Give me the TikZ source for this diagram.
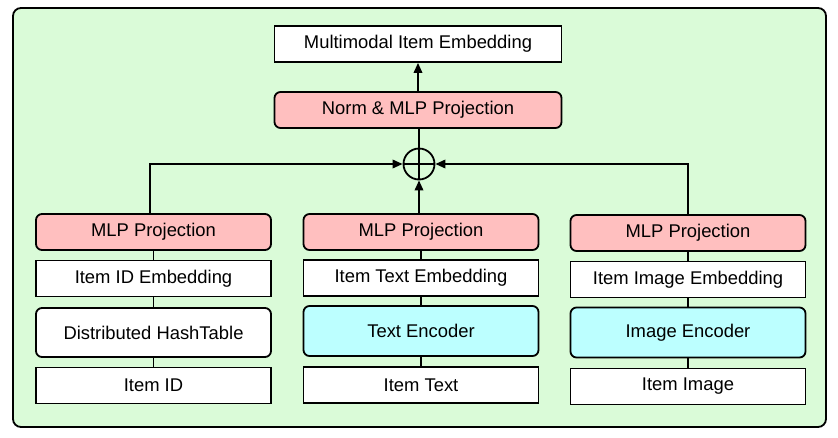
\documentclass[tikz,border=0pt]{standalone}
\usepackage{fontspec}
\setmainfont{Liberation Sans}
\usetikzlibrary{arrows.meta}
\definecolor{bggreen}{RGB}{218,251,216}
\definecolor{pinkfill}{RGB}{255,191,191}
\definecolor{cyanfill}{RGB}{188,255,255}
\begin{document}
\begin{tikzpicture}[x=1pt,y=-1pt, line width=1.8pt,
  box/.style={draw, fill=white, minimum width=235pt, minimum height=36pt, inner sep=0pt, font=\fontsize{18.4}{20}\selectfont},
  rbox/.style={box, rounded corners=6pt},
  pbox/.style={rbox, fill=pinkfill},
  cbox/.style={rbox, fill=cyanfill, minimum height=50pt},
  arr/.style={-{Triangle[length=10pt,width=8.5pt]}}]
\useasboundingbox (0,0) rectangle (838,437);
\draw[rounded corners=8pt, fill=bggreen] (13,8) rectangle (826,427);

% top
\node[box, minimum width=287pt] (top) at (418,44) {Multimodal Item Embedding};
\node[pbox, minimum width=287pt] (norm) at (418,110) {Norm \& MLP Projection};
\node[circle, draw, minimum size=31pt, inner sep=0pt] (plus) at (419,164) {};
\draw[line width=2.6pt] (plus.north) -- (plus.south) (plus.west) -- (plus.east);

% left column
\node[pbox] (lmlp) at (153.5,232) {MLP Projection};
\node[box]  (lemb) at (153.5,278.5) {Item ID Embedding};
\node[rbox, minimum height=49pt] (lenc) at (153.5,332.5) {Distributed HashTable};
\node[box]  (lin)  at (153.5,385.5) {Item ID};

% middle column
\node[pbox] (mmlp) at (421,232) {MLP Projection};
\node[box]  (memb) at (421,278) {Item Text Embedding};
\node[cbox] (menc) at (421,331) {Text Encoder};
\node[box]  (min)  at (421,385) {Item Text};

% right column
\node[pbox] (rmlp) at (688,233) {MLP Projection};
\node[box]  (remb) at (688,279.5) {Item Image Embedding};
\node[cbox] (renc) at (688,332.5) {Image Encoder};
\node[box]  (rin)  at (688,386.5) {Item Image};

% stack connectors
\foreach \a/\b in {lmlp/lemb,lemb/lenc,lenc/lin,mmlp/memb,memb/menc,menc/min,rmlp/remb,remb/renc,renc/rin}
  \draw (\a.south) -- (\b.north);

% into the sum
\draw[arr] ([xshift=-3.5pt]lmlp.north) |- (plus.west);
\draw[arr] (rmlp.north) |- (plus.east);
\draw[arr] (plus |- mmlp.north) -- (plus.south);
\draw (plus.north) -- (plus |- norm.south);
\draw[arr] (norm.north) -- (top.south);
\end{tikzpicture}
\end{document}
